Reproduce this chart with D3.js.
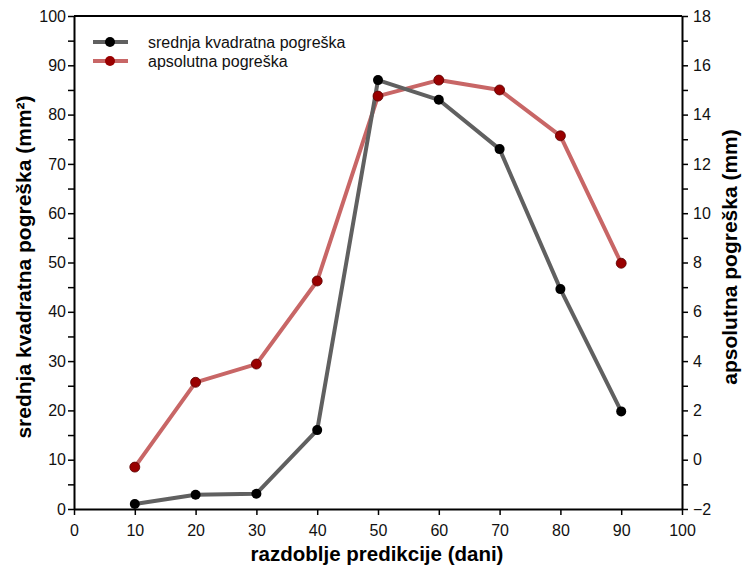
<!DOCTYPE html>
<html><head><meta charset="utf-8">
<script src="https://cdn.jsdelivr.net/npm/d3@7"></script>
<style>body{margin:0;background:#fff}svg{display:block}text{font-family:"Liberation Sans",Arial,sans-serif}</style>
</head><body><svg id="c" width="742" height="570"></svg>
<script>
const days = [10,20,30,40,50,60,70,80,90];
const mseValues = [1.0,2.9,3.1,16.0,87.0,83.0,73.0,44.6,19.8];
const maeValues = [-0.3,3.14,3.88,7.25,14.75,15.4,15.0,13.14,7.97];
const xTicks = [0,10,20,30,40,50,60,70,80,90,100];
const leftTicks = [0,10,20,30,40,50,60,70,80,90,100];
const rightTicks = [-2,0,2,4,6,8,10,12,14,16,18];
const seriesNames = ["srednja kvadratna pogreška","apsolutna pogreška"];

const svg = d3.select("#c");
const L=74, R=682, T=16, B=509;
const x = d3.scaleLinear().domain([0,100]).range([L,R]);
const yL = d3.scaleLinear().domain([0,100]).range([B,T]);
const yR = d3.scaleLinear().domain([-2,18]).range([B,T]);

svg.append("line").attr("x1",L).attr("x2",R).attr("y1",T).attr("y2",T).attr("stroke","#000").attr("stroke-width",2);

function styleAxis(g){
  g.select(".domain").attr("stroke","#000").attr("stroke-width",2);
  g.selectAll(".tick line").attr("stroke","#000").attr("stroke-width",1.5);
  g.selectAll(".tick text").attr("font-size",16).attr("fill","#111").attr("font-family","Liberation Sans, Arial, sans-serif");
}
const gx = svg.append("g").attr("transform",`translate(0,${B})`).call(d3.axisBottom(x).tickValues(xTicks).tickSize(6).tickSizeOuter(0).tickPadding(10).tickFormat(d3.format("d")));
styleAxis(gx);
const leftMinor = leftTicks.slice(0,-1).map(d=>d+5);
svg.append("g").attr("transform",`translate(${L},0)`).call(d3.axisLeft(yL).tickValues(leftMinor).tickSize(6).tickFormat("")).call(g=>{g.select(".domain").remove();g.selectAll("line").attr("stroke","#000").attr("stroke-width",1.5);});
const gy = svg.append("g").attr("transform",`translate(${L},0)`).call(d3.axisLeft(yL).tickValues(leftTicks).tickSize(6).tickSizeOuter(0).tickPadding(2));
styleAxis(gy);
const rightMinor = rightTicks.slice(0,-1).map(d=>d+1);
svg.append("g").attr("transform",`translate(${R},0)`).call(d3.axisRight(yR).tickValues(rightMinor).tickSize(6).tickFormat("")).call(g=>{g.select(".domain").remove();g.selectAll("line").attr("stroke","#000").attr("stroke-width",1.5);});
const gyr = svg.append("g").attr("transform",`translate(${R},0)`).call(d3.axisRight(yR).tickValues(rightTicks).tickSize(6).tickSizeOuter(0).tickPadding(5));
styleAxis(gyr);

const lineL = d3.line().x((d,i)=>x(days[i])).y(d=>yL(d));
const lineR = d3.line().x((d,i)=>x(days[i])).y(d=>yR(d));
const redLine="#c86666", grayLine="#606060";
svg.append("path").datum(maeValues).attr("d",lineR).attr("fill","none").attr("stroke",redLine).attr("stroke-width",4).attr("stroke-linejoin","round");
svg.append("path").datum(mseValues).attr("d",lineL).attr("fill","none").attr("stroke",grayLine).attr("stroke-width",4).attr("stroke-linejoin","round");
svg.append("g").selectAll("circle").data(maeValues).join("circle").attr("cx",(d,i)=>x(days[i])).attr("cy",d=>yR(d)).attr("r",5).attr("fill","#990000").attr("stroke","#5a0000").attr("stroke-width",0.8);
svg.append("g").selectAll("circle").data(mseValues).join("circle").attr("cx",(d,i)=>x(days[i])).attr("cy",d=>yL(d)).attr("r",5).attr("fill","#000");

const leg = [{c:grayLine,f:"#000",y:42},{c:redLine,f:"#990000",y:61}];
leg.forEach((l,i)=>{
  svg.append("line").attr("x1",93).attr("x2",128).attr("y1",l.y).attr("y2",l.y).attr("stroke",l.c).attr("stroke-width",4);
  svg.append("circle").attr("cx",110).attr("cy",l.y).attr("r",5).attr("fill",l.f);
  svg.append("text").attr("x",148).attr("y",l.y+5.5).attr("font-size",16).attr("fill","#111").text(seriesNames[i]);
});

svg.append("text").attr("x",377).attr("y",561).attr("text-anchor","middle").attr("font-size",20.5).attr("font-weight","bold").text("razdoblje predikcije (dani)");
svg.append("text").attr("transform",`translate(31,267) rotate(-90)`).attr("text-anchor","middle").attr("font-size",21).attr("font-weight","bold")
  .text("srednja kvadratna pogreška (mm²)");
svg.append("text").attr("transform",`translate(737,257) rotate(-90)`).attr("text-anchor","middle").attr("font-size",21).attr("font-weight","bold").text("apsolutna pogreška (mm)");
</script></body></html>
